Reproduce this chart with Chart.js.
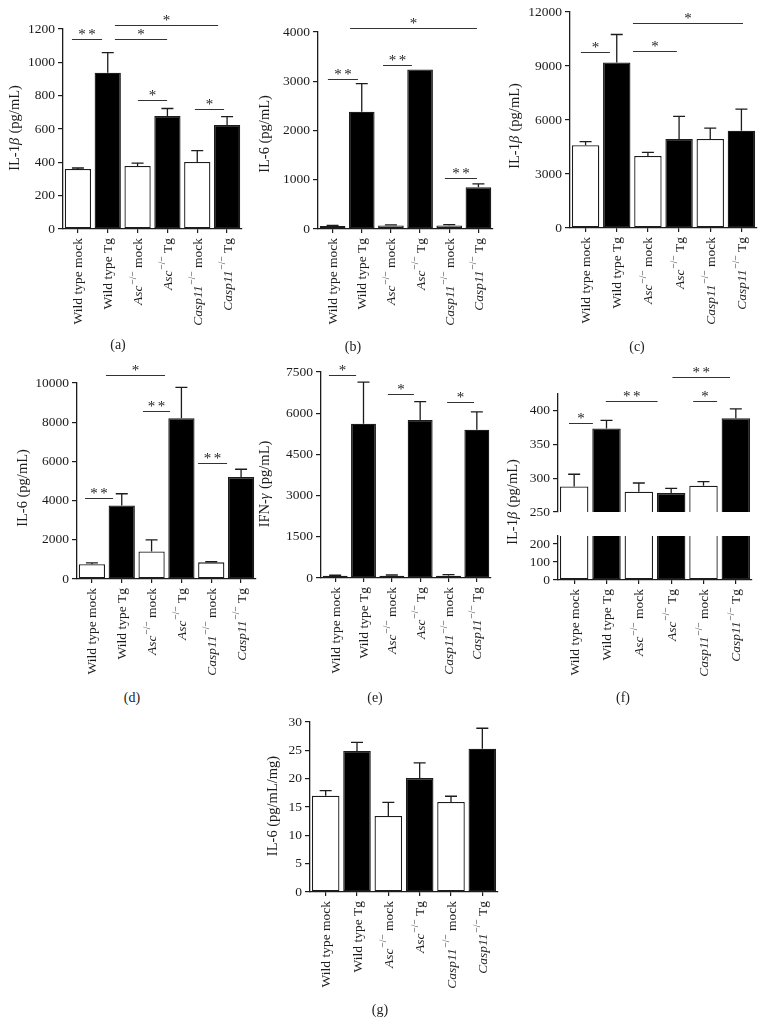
<!DOCTYPE html>
<html>
<head>
<meta charset="utf-8">
<script src="https://cdn.jsdelivr.net/npm/chart.js@4.4.1/dist/chart.umd.min.js"></script>
<style>
  html, body { margin: 0; padding: 0; background: #fff; }
  #fig { position: relative; width: 765px; height: 1036px; overflow: hidden; background: #fff; }
  #fig canvas { position: absolute; }
  .cap { position: absolute; font: 14px "Liberation Serif", "Times New Roman", serif; color: #222;
         transform: translate(-50%, -50%); white-space: nowrap; }
</style>
</head>
<body>
<div id="fig"></div>
<script>
// groups, same order in every panel
const GROUPS = ["Wild type mock", "Wild type Tg", "Asc-/- mock", "Asc-/- Tg", "Casp11-/- mock", "Casp11-/- Tg"];
const FILLS = ["#ffffff", "#000000", "#ffffff", "#000000", "#ffffff", "#000000"];
// label pieces: 0 roman, 1 italic, 2 superscript
const LABEL_PARTS = [
  [["Wild type mock", 0]],
  [["Wild type Tg", 0]],
  [["Asc", 1], ["\u2212/\u2212", 2], [" mock", 0]],
  [["Asc", 1], ["\u2212/\u2212", 2], [" Tg", 0]],
  [["Casp11", 1], ["\u2212/\u2212", 2], [" mock", 0]],
  [["Casp11", 1], ["\u2212/\u2212", 2], [" Tg", 0]],
];

// values: mean + upper error
const aTicks = [0, 200, 400, 600, 800, 1000, 1200];
const aVals  = [360, 938, 378, 678, 402, 624];
const aErr   = [6, 120, 17, 45, 68, 50];
const bTicks = [0, 1000, 2000, 3000, 4000];
const bVals  = [60, 2380, 70, 3240, 70, 850];
const bErr   = [12, 570, 12, 0, 18, 65];
const cTicks = [0, 3000, 6000, 9000, 12000];
const cVals  = [4600, 9200, 4000, 4950, 4950, 5400];
const cErr   = [200, 1550, 200, 1250, 600, 1200];
const dTicks = [0, 2000, 4000, 6000, 8000, 10000];
const dVals  = [750, 3750, 1400, 8200, 850, 5200];
const dErr   = [70, 600, 600, 1580, 30, 400];
const eTicks = [0, 1500, 3000, 4500, 6000, 7500];
const eVals  = [80, 5620, 80, 5750, 80, 5400];
const eErr   = [20, 1510, 30, 670, 40, 650];
const fTicksHi = [250, 300, 350, 400];
const fTicksLo = [0, 100, 200];
const fVals  = [288, 374, 280, 278, 289, 389];
const fErr   = [18, 12, 13, 7, 6, 14];
const gTicks = [0, 5, 10, 15, 20, 25, 30];
const gVals  = [17, 24.9, 13.4, 20.1, 15.9, 25.3];
const gErr   = [0.9, 1.5, 2.4, 2.7, 1.0, 3.6];

// significance bars: [from index, to index, height (data units), stars]
const aSig = [[-0.2, 0.81, 1140, 2], [1.24, 4.7, 1224, 1], [1.24, 2.99, 1140, 1], [2.01, 2.99, 774, 1], [3.92, 4.9, 720, 1]];
const bSig = [[-0.16, 0.87, 3046, 2], [1.73, 2.72, 3330, 2], [0.6, 4.95, 4081, 1], [3.85, 4.95, 1036, 2]];
const cSig = [[-0.15, 0.78, 9778, 1], [1.52, 2.93, 9833, 1], [1.52, 5.05, 11389, 1]];
const dSig = [[-0.23, 0.71, 4133, 2], [0.47, 2.45, 10408, 1], [1.71, 2.62, 8571, 2], [3.56, 4.53, 5918, 2]];
const eSig = [[-0.22, 0.74, 7390, 1], [1.86, 2.78, 6698, 1], [3.95, 4.9, 6407, 1]];
const fSig = [[-0.16, 0.58, 382, 1], [0.98, 2.58, 414, 2], [3.04, 4.82, 450, 2], [3.68, 4.42, 414, 1]];

const IL1B  = [["IL-1", 0], ["\u03b2", 1], [" (pg/mL)", 0]];
const IL6   = [["IL-6 (pg/mL)", 0]];
const IFNG  = [["IFN-", 0], ["\u03b3", 1], [" (pg/mL)", 0]];
const IL6MG = [["IL-6 (pg/mL/mg)", 0]];

const INK = "#1c1c1c";
const FS = 13.5;      // x labels
const TS = 14.5;      // y titles
const KS = 13.5;      // tick labels
const YW = 45, XH = 10;
const FAM = '"Liberation Serif", "Times New Roman", serif';

function fontOf(kind, size){
  const sz = kind === 2 ? size * 0.7 : size;
  return (kind === 1 ? "italic " : "") + sz + "px " + FAM;
}
function measureParts(ctx, parts, size){
  let w = 0;
  const items = parts.map(([t, k]) => {
    ctx.font = fontOf(k, size);
    const m = ctx.measureText(t).width + (k === 1 ? 0.8 : 0);
    w += m;
    return { t, k, m };
  });
  return { w, items };
}
function drawParts(ctx, parts, size, x0, y0){
  const { items } = measureParts(ctx, parts, size);
  let x = x0;
  for (const it of items){
    ctx.font = fontOf(it.k, size);
    ctx.fillText(it.t, x, it.k === 2 ? y0 - size * 0.4 : y0);
    x += it.m;
  }
}

function panelPlugin(p, part){
  return {
    id: "panel_" + p.id + (part || ""),
    afterDatasetsDraw(chart){
      const ctx = chart.ctx, xs = chart.scales.x, ys = chart.scales.y;
      ctx.save();
      ctx.fillStyle = INK;
      ctx.strokeStyle = INK;
      ctx.textBaseline = "middle";

      if (part !== "lo"){
        // error bars (upper only)
        ctx.lineWidth = 1.3;
        p.vals.forEach((v, i) => {
          const e = p.err[i];
          if (!e) return;
          const x = xs.getPixelForValue(i);
          const y0 = ys.getPixelForValue(v), y1 = ys.getPixelForValue(v + e);
          ctx.beginPath();
          ctx.moveTo(x, y0); ctx.lineTo(x, y1);
          ctx.moveTo(x - 6, y1); ctx.lineTo(x + 6, y1);
          ctx.stroke();
        });
        // significance bars
        ctx.lineWidth = 1;
        ctx.strokeStyle = "#333";
        ctx.textAlign = "center";
        ctx.textBaseline = "alphabetic";
        ctx.font = "15px " + FAM;
        (p.sig || []).forEach(([a, b, h, n]) => {
          const x0 = xs.getPixelForValue(a), x1 = xs.getPixelForValue(b);
          const y = Math.round(ys.getPixelForValue(h)) + 0.5;
          ctx.beginPath(); ctx.moveTo(x0, y); ctx.lineTo(x1, y); ctx.stroke();
          const cx = (x0 + x1) / 2;
          if (n === 2){
            ctx.fillText("*", cx - 5, y - 0.5);
            ctx.fillText("*", cx + 5, y - 0.5);
          } else {
            ctx.fillText("*", cx, y - 0.5);
          }
        });
        // y title
        const t = measureParts(ctx, p.title, TS);
        ctx.save();
        ctx.translate(p.tx - p.boxL, p.ty - p.boxT);
        ctx.rotate(-Math.PI / 2);
        ctx.textAlign = "left";
        ctx.textBaseline = "middle";
        drawParts(ctx, p.title, TS, -t.w / 2, 0);
        ctx.restore();
      }

      if (part !== "hi"){
        // rotated x labels
        const yb = chart.chartArea.bottom + 9;
        LABEL_PARTS.forEach((parts, i) => {
          const x = xs.getPixelForValue(i);
          const m = measureParts(ctx, parts, FS);
          ctx.save();
          ctx.translate(x + 1, yb);
          ctx.rotate(-Math.PI / 2);
          ctx.textAlign = "left";
          ctx.textBaseline = "middle";
          drawParts(ctx, parts, FS, -m.w, 0);
          ctx.restore();
        });
      }
      ctx.restore();
    }
  };
}

function addPanel(p, part){
  const fig = document.getElementById("fig");
  const padTop = 40, padL = 75, padR = 12;
  const below = part === "hi" ? 70 : 110;
  p.boxL = p.L - padL;
  p.boxT = p.T - padTop;
  const w = (p.R - p.L) + padL + padR;
  const h = (p.B - p.T) + padTop + below;
  const cv = document.createElement("canvas");
  cv.width = w; cv.height = h;
  cv.style.left = p.boxL + "px"; cv.style.top = p.boxT + "px";
  cv.style.width = w + "px"; cv.style.height = h + "px";
  fig.appendChild(cv);

  const ticks = p.ticks;
  new Chart(cv, {
    type: "bar",
    data: {
      labels: GROUPS,
      datasets: [{
        data: p.vals,
        backgroundColor: FILLS,
        borderColor: INK,
        borderWidth: 1.3,
        borderSkipped: false,
        barPercentage: 0.88,
        categoryPercentage: 1,
        clip: 0,
      }]
    },
    options: {
      responsive: false,
      animation: false,
      devicePixelRatio: 1,
      layout: { padding: { left: padL - YW, top: padTop, right: padR, bottom: below - (part === "hi" ? 0 : XH) } },
      plugins: { legend: { display: false }, tooltip: { enabled: false } },
      scales: {
        x: {
          display: part !== "hi",
          offset: true,
          grid: { display: true, drawOnChartArea: false, offset: false, tickLength: 4, color: INK, lineWidth: 1.2 },
          border: { display: true, color: INK, width: 1.3 },
          ticks: { display: false },
          afterFit: (s) => { s.height = XH; },
        },
        y: {
          min: p.min ?? ticks[0],
          max: p.max ?? ticks[ticks.length - 1],
          afterBuildTicks: (s) => { s.ticks = ticks.map((v) => ({ value: v })); },
          ticks: { color: INK, padding: 3, font: { family: FAM, size: KS }, callback: (v) => String(v) },
          grid: { display: true, drawOnChartArea: false, tickLength: 5, color: INK, lineWidth: 1.2 },
          border: { display: true, color: INK, width: 1.3 },
          afterFit: (s) => { s.width = YW; },
        }
      }
    },
    plugins: [panelPlugin(p, part)]
  });
}

function caption(txt, x, y){
  const d = document.createElement("div");
  d.className = "cap";
  d.textContent = txt;
  d.style.left = x + "px"; d.style.top = y + "px";
  document.getElementById("fig").appendChild(d);
}

addPanel({ id: "a", L: 63, R: 242, T: 29, B: 229, ticks: aTicks, vals: aVals, err: aErr, sig: aSig, title: IL1B, tx: 15, ty: 128 });
addPanel({ id: "b", L: 318, R: 493, T: 32, B: 229, ticks: bTicks, vals: bVals, err: bErr, sig: bSig, title: IL6, tx: 265, ty: 134 });
addPanel({ id: "c", L: 570, R: 757, T: 12, B: 228, ticks: cTicks, vals: cVals, err: cErr, sig: cSig, title: IL1B, tx: 515, ty: 126 });
addPanel({ id: "d", L: 77, R: 256, T: 383, B: 579, ticks: dTicks, vals: dVals, err: dErr, sig: dSig, title: IL6, tx: 23, ty: 488 });
addPanel({ id: "e", L: 321, R: 491, T: 372, B: 578, ticks: eTicks, vals: eVals, err: eErr, sig: eSig, title: IFNG, tx: 265, ty: 484 });
addPanel({ id: "f", L: 558, R: 752, T: 394, B: 522, min: 250, max: 425, ticks: fTicksHi, vals: fVals, err: fErr, sig: fSig, title: IL1B, tx: 513, ty: 502 }, "hi");
addPanel({ id: "f", L: 558, R: 752, T: 536, B: 580, min: 0, max: 245, ticks: fTicksLo, vals: fVals, err: fErr, sig: [], title: IL1B, tx: 513, ty: 502 }, "lo");
addPanel({ id: "g", L: 310, R: 498, T: 722, B: 892, ticks: gTicks, vals: gVals, err: gErr, sig: [], title: IL6MG, tx: 273, ty: 806 });

caption("(a)", 118, 345);
caption("(b)", 353, 347);
caption("(c)", 637, 347);
caption("(d)", 132, 698);
caption("(e)", 375, 698);
caption("(f)", 623, 698);
caption("(g)", 380, 1010);
</script>
</body>
</html>
